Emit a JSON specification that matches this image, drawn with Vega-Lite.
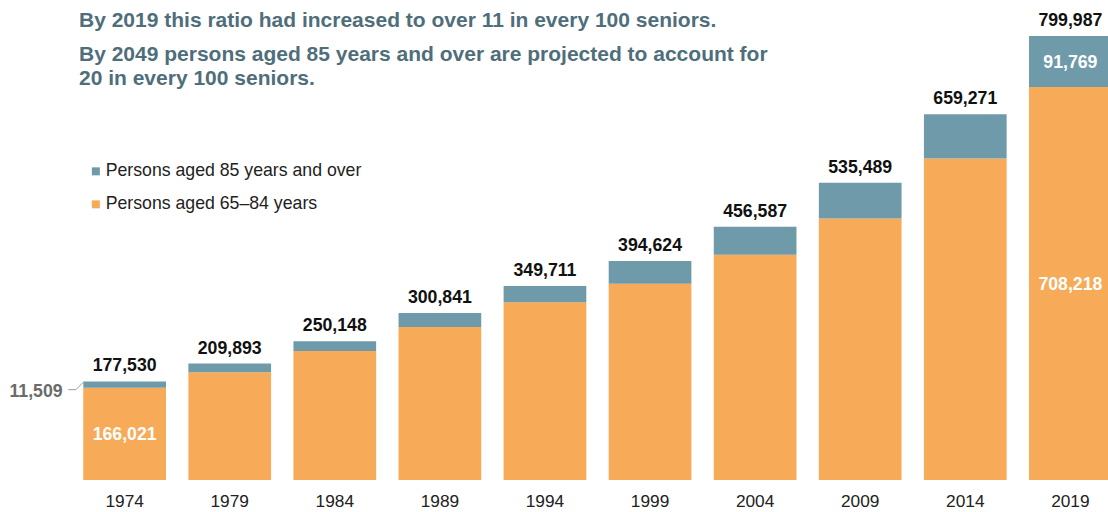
{
  "$schema": "https://vega.github.io/schema/vega-lite/v6.json",
  "width": 1029,
  "height": 480,
  "autosize": {"type": "none"},
  "padding": {"left": 79, "top": 0, "right": 0, "bottom": 32},
  "background": "white",
  "config": {"view": {"stroke": null}, "font": "Liberation Sans"},
  "title": {
    "text": "By 2019 this ratio had increased to over 11 in every 100 seniors.",
    "subtitle": ["By 2049 persons aged 85 years and over are projected to account for", "20 in every 100 seniors."],
    "anchor": "start",
    "frame": "group",
    "orient": "top",
    "offset": -89.4,
    "font": "Liberation Sans",
    "fontSize": 21,
    "fontWeight": "bold",
    "color": "#4F6E7B",
    "subtitleFont": "Liberation Sans",
    "subtitleFontSize": 21,
    "subtitleFontWeight": "bold",
    "subtitleColor": "#4F6E7B",
    "subtitleLineHeight": 24,
    "subtitlePadding": 13.3
  },
  "datasets": {
    "segments": [
      {"year": "1974", "group": "Persons aged 65–84 years", "value": 166021},
      {"year": "1974", "group": "Persons aged 85 years and over", "value": 11509},
      {"year": "1979", "group": "Persons aged 65–84 years", "value": 194293},
      {"year": "1979", "group": "Persons aged 85 years and over", "value": 15600},
      {"year": "1984", "group": "Persons aged 65–84 years", "value": 232548},
      {"year": "1984", "group": "Persons aged 85 years and over", "value": 17600},
      {"year": "1989", "group": "Persons aged 65–84 years", "value": 275641},
      {"year": "1989", "group": "Persons aged 85 years and over", "value": 25200},
      {"year": "1994", "group": "Persons aged 65–84 years", "value": 320111},
      {"year": "1994", "group": "Persons aged 85 years and over", "value": 29600},
      {"year": "1999", "group": "Persons aged 65–84 years", "value": 353824},
      {"year": "1999", "group": "Persons aged 85 years and over", "value": 40800},
      {"year": "2004", "group": "Persons aged 65–84 years", "value": 406087},
      {"year": "2004", "group": "Persons aged 85 years and over", "value": 50500},
      {"year": "2009", "group": "Persons aged 65–84 years", "value": 471189},
      {"year": "2009", "group": "Persons aged 85 years and over", "value": 64300},
      {"year": "2014", "group": "Persons aged 65–84 years", "value": 579371},
      {"year": "2014", "group": "Persons aged 85 years and over", "value": 79900},
      {"year": "2019", "group": "Persons aged 65–84 years", "value": 708218},
      {"year": "2019", "group": "Persons aged 85 years and over", "value": 91769}
    ],
    "totals": [
      {"year": "1974", "total": 177530},
      {"year": "1979", "total": 209893},
      {"year": "1984", "total": 250148},
      {"year": "1989", "total": 300841},
      {"year": "1994", "total": 349711},
      {"year": "1999", "total": 394624},
      {"year": "2004", "total": 456587},
      {"year": "2009", "total": 535489},
      {"year": "2014", "total": 659271},
      {"year": "2019", "total": 799987}
    ]
  },
  "encoding": {
    "x": {
      "field": "year",
      "type": "ordinal",
      "scale": {"range": [-79, 1116], "paddingInner": 0.213, "paddingOuter": 0.7926},
      "axis": {"title": null, "domain": false, "ticks": false, "labelAngle": 0, "labelFontSize": 17.3, "labelColor": "#222222", "labelPadding": 12, "labelFont": "Liberation Sans"}
    }
  },
  "layer": [
    {
      "data": {"name": "segments"},
      "transform": [
        {"stack": "value", "groupby": ["year"], "sort": [{"field": "group", "order": "ascending"}], "as": ["v0", "v1"]}
      ],
      "mark": {"type": "bar"},
      "encoding": {
        "y": {"field": "v0", "type": "quantitative", "scale": {"domain": [0, 865000], "nice": false, "zero": true}, "axis": null},
        "y2": {"field": "v1"},
        "color": {
          "field": "group",
          "type": "nominal",
          "scale": {"domain": ["Persons aged 85 years and over", "Persons aged 65–84 years"], "range": ["#6F9AAA", "#F7AA57"]},
          "legend": {"title": null, "orient": "none", "legendX": 8, "legendY": 162.5, "symbolType": "square", "symbolSize": 64, "symbolStrokeWidth": 0, "symbolOpacity": 1, "labelFontSize": 17.7, "labelColor": "#222222", "labelOffset": 1, "labelLimit": 500, "rowPadding": 14, "padding": 0, "labelFont": "Liberation Sans"}
        }
      }
    },
    {
      "data": {"name": "segments"},
      "transform": [
        {"stack": "value", "groupby": ["year"], "sort": [{"field": "group", "order": "ascending"}], "as": ["v0", "v1"]},
        {"filter": "datum.year == '2019' || (datum.year == '1974' && datum.group == 'Persons aged 65–84 years')"},
        {"fold": ["v0", "v1"], "as": ["edge", "pos"]}
      ],
      "mark": {"type": "text", "font": "Liberation Sans", "fontWeight": "bold", "fontSize": 17.7, "color": "#FFFFFF", "baseline": "middle", "dy": 1.5},
      "encoding": {
        "y": {"aggregate": "mean", "field": "pos", "type": "quantitative"},
        "detail": {"field": "group"},
        "text": {"field": "value", "type": "quantitative", "format": ",d"}
      }
    },
    {
      "data": {"name": "segments"},
      "transform": [
        {"stack": "value", "groupby": ["year"], "sort": [{"field": "group", "order": "ascending"}], "as": ["v0", "v1"]},
        {"filter": "datum.year == '1974' && datum.group == 'Persons aged 85 years and over'"}
      ],
      "layer": [
        {
          "mark": {"type": "text", "font": "Liberation Sans", "fontWeight": "bold", "fontSize": 17.7, "color": "#6B6B6B", "baseline": "middle", "align": "right", "dx": -62, "dy": 4},
          "encoding": {
            "y": {"field": "v0", "type": "quantitative"},
            "text": {"field": "value", "type": "quantitative", "format": ",d"}
          }
        },
        {
          "mark": {"type": "rule", "color": "#9A9A9A", "strokeWidth": 1, "xOffset": -56.4, "x2Offset": -48.7, "yOffset": 1.8, "y2Offset": 1.8},
          "encoding": {
            "y": {"field": "v0", "type": "quantitative"},
            "y2": {"field": "v0"},
            "x2": {"field": "year"}
          }
        },
        {
          "mark": {"type": "rule", "color": "#9A9A9A", "strokeWidth": 1, "xOffset": -48.7, "x2Offset": -41.4, "yOffset": 1.8, "y2Offset": 0.8},
          "encoding": {
            "y": {"field": "v0", "type": "quantitative"},
            "y2": {"field": "v1"},
            "x2": {"field": "year"}
          }
        }
      ]
    },
    {
      "data": {"name": "totals"},
      "mark": {"type": "text", "font": "Liberation Sans", "fontWeight": "bold", "fontSize": 17.7, "color": "#111111", "baseline": "alphabetic", "dy": -10},
      "encoding": {
        "y": {"field": "total", "type": "quantitative"},
        "text": {"field": "total", "type": "quantitative", "format": ",d"}
      }
    }
  ]
}
